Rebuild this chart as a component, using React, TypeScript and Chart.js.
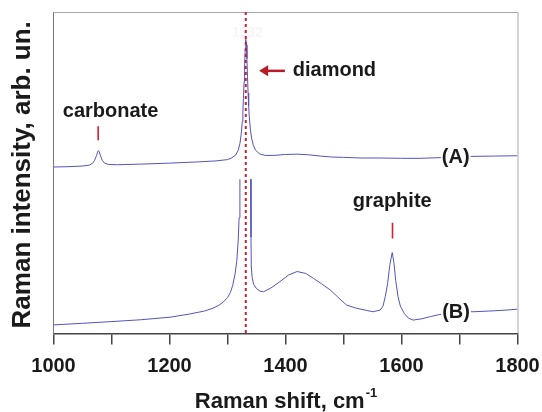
import React, { useEffect, useRef } from "react";
import { Chart, registerables } from "chart.js";

Chart.register(...registerables);

// Raman shift (cm-1) and intensity (arb. units, 0..100 frame) for spectrum (A)
const shiftA = [
  1000, 1025, 1050, 1062, 1067, 1071, 1074, 1076, 1077.5, 1079, 1081, 1084, 1088, 1095, 1110,
  1150, 1200, 1250, 1280, 1300, 1306, 1314, 1318.5, 1321.5, 1323.5, 1325.5, 1326.5, 1327.5,
  1328.5, 1329.5, 1330.5, 1331.5, 1332.5, 1333.5, 1334.5, 1335.5, 1336.5, 1337.5, 1339.5,
  1341.5, 1344.5, 1348.5, 1355, 1365, 1380, 1400, 1420, 1440, 1460, 1480, 1500, 1530, 1560,
  1600, 1632, 1680, 1720, 1760, 1800,
];
const intensityA = [
  51.8, 51.9, 52.1, 52.4, 52.9, 53.9, 55.3, 56.4, 56.9, 56.5, 55.3, 53.9, 53.0, 52.6, 52.5,
  52.7, 53.0, 53.4, 53.7, 54.1, 54.5, 55.5, 57.0, 59.2, 61.8, 65.9, 68.9, 73.0,
  78.2, 83.5, 88.4, 91.5, 89.8, 85.5, 80.0, 74.8, 70.8, 67.6, 63.4,
  60.8, 58.6, 57.0, 55.9, 55.4, 55.4, 55.7, 55.8, 55.6, 55.2, 54.9, 54.8, 54.6, 54.6,
  54.5, 54.5, 54.8, 55.1, 55.2, 55.3,
];

// Spectrum (B); the diamond band runs off the top of its window (null = gap)
const shiftB = [
  1000, 1050, 1097, 1150, 1201, 1235, 1260, 1275, 1285, 1292, 1300, 1305, 1309, 1313, 1316,
  1318.5, 1320, 1321.4, 1331, 1340.2, 1340.5, 1341, 1342.5, 1345, 1350, 1356, 1362, 1375, 1390,
  1405, 1420, 1435, 1448, 1462, 1477, 1490, 1505, 1522, 1540, 1551, 1563, 1568, 1572, 1576,
  1580, 1584, 1587, 1590, 1594, 1598, 1605, 1612, 1620, 1635, 1650, 1665, 1678, 1690, 1700,
  1725, 1750, 1780, 1800,
];
const intensityB = [
  2.7, 3.2, 3.7, 4.3, 5.1, 6.1, 7.0, 7.9, 8.8, 9.7, 11.2, 12.8, 15.0, 18.5, 22.5,
  29.1, 36.0, 48.0, null, 48.0, 30.0, 21.0, 17.5, 15.3, 14.0, 13.2, 13.0, 14.2, 16.1,
  18.2, 19.3, 18.7, 17.2, 15.5, 13.6, 11.4, 8.9, 7.9, 7.2, 6.8, 7.3, 8.5, 11.5, 15.5,
  21.5, 25.2, 22.0, 16.5, 11.5, 8.6, 6.2, 4.8, 4.2, 4.6, 5.3, 5.9, 6.3, 6.6, 6.8,
  6.8, 7.0, 7.3, 7.6,
];

const xTickValues = [1000, 1200, 1400, 1600, 1800];
const diamondShift = 1331.5;
const carbonateShift = 1077;
const graphiteShift = 1584.5;

const FONT = "'Liberation Sans', Arial, sans-serif";

const overlayPlugin = {
  id: "overlay",
  beforeDatasetsDraw(chart: any) {
    const { ctx, scales } = chart;
    const x = scales.x, y = scales.y;
    ctx.save();
    ctx.fillStyle = "#f6f6f6";
    ctx.font = `bold 14px ${FONT}`;
    ctx.textAlign = "center";
    ctx.textBaseline = "middle";
    ctx.fillText("1332", x.getPixelForValue(1334), y.getPixelForValue(93.5));
    ctx.restore();
  },
  afterDraw(chart: any) {
    const { ctx, chartArea, scales } = chart;
    const x = scales.x, y = scales.y;
    const px = (v: number) => x.getPixelForValue(v);
    const py = (v: number) => y.getPixelForValue(v);
    ctx.save();

    // frame (top, right)
    ctx.strokeStyle = "#a8a8a8";
    ctx.lineWidth = 1;
    ctx.beginPath();
    ctx.moveTo(chartArea.left, chartArea.top + 0.5);
    ctx.lineTo(chartArea.right + 0.5, chartArea.top + 0.5);
    ctx.lineTo(chartArea.right + 0.5, chartArea.bottom);
    ctx.stroke();

    // dotted diamond line
    ctx.strokeStyle = "#c8202e";
    ctx.lineWidth = 2;
    ctx.setLineDash([3, 3]);
    ctx.beginPath();
    ctx.moveTo(px(diamondShift), chartArea.top);
    ctx.lineTo(px(diamondShift), chartArea.bottom);
    ctx.stroke();
    ctx.setLineDash([]);

    // red markers
    ctx.strokeStyle = "#d0202e";
    ctx.lineWidth = 1.6;
    ctx.beginPath();
    ctx.moveTo(px(carbonateShift), py(64.5));
    ctx.lineTo(px(carbonateShift), py(60.1));
    ctx.moveTo(px(graphiteShift), py(34.5));
    ctx.lineTo(px(graphiteShift), py(29.6));
    ctx.stroke();

    // arrow to diamond
    const ay = py(81.7);
    const ax0 = px(1354.5);
    const ax1 = px(1399);
    ctx.strokeStyle = "#b81c26";
    ctx.fillStyle = "#b81c26";
    ctx.lineWidth = 2.5;
    ctx.beginPath();
    ctx.moveTo(ax0 + 6, ay);
    ctx.lineTo(ax1, ay);
    ctx.stroke();
    ctx.beginPath();
    ctx.moveTo(ax0, ay);
    ctx.lineTo(ax0 + 9, ay - 5.5);
    ctx.lineTo(ax0 + 9, ay + 5.5);
    ctx.closePath();
    ctx.fill();

    // labels
    ctx.fillStyle = "#1a1a1a";
    ctx.font = `bold 20px ${FONT}`;
    ctx.textBaseline = "alphabetic";
    ctx.textAlign = "left";
    ctx.fillText("carbonate", px(1016), py(67.2));
    ctx.fillText("diamond", px(1412.5), py(80.1));
    ctx.fillText("graphite", px(1516), py(39.5));

    const boxed = (t: string, cx: number, cy: number) => {
      ctx.font = `bold 20px ${FONT}`;
      const w = ctx.measureText(t).width;
      ctx.fillStyle = "#ffffff";
      ctx.fillRect(cx - w / 2 - 1, cy - 10, w + 2, 20);
      ctx.fillStyle = "#1a1a1a";
      ctx.textAlign = "center";
      ctx.textBaseline = "middle";
      ctx.fillText(t, cx, cy + 1);
    };
    boxed("(A)", px(1693.5), py(55.2));
    boxed("(B)", px(1694), py(7.0));

    // axis titles
    ctx.fillStyle = "#1a1a1a";
    ctx.font = `bold 22px ${FONT}`;
    ctx.textBaseline = "alphabetic";
    ctx.textAlign = "left";
    const main = "Raman shift, cm";
    const wMain = ctx.measureText(main).width;
    ctx.font = `bold 13px ${FONT}`;
    const sup = "-1";
    const wSup = ctx.measureText(sup).width;
    const cxT = (chartArea.left + chartArea.right) / 2;
    const startX = cxT - (wMain + wSup) / 2;
    const baseY = 408;
    ctx.font = `bold 22px ${FONT}`;
    ctx.fillText(main, startX, baseY);
    ctx.font = `bold 13px ${FONT}`;
    ctx.fillText(sup, startX + wMain + 1, baseY - 11);

    ctx.save();
    ctx.translate(30, (chartArea.top + chartArea.bottom) / 2 + 2);
    ctx.rotate(-Math.PI / 2);
    ctx.font = `bold 26px ${FONT}`;
    ctx.textAlign = "center";
    ctx.textBaseline = "alphabetic";
    ctx.fillText("Raman intensity, arb. un.", 0, 0);
    ctx.restore();

    ctx.restore();
  },
};

export default function App() {
  const ref = useRef<HTMLCanvasElement | null>(null);
  useEffect(() => {
    document.body.style.margin = "0";
    const canvas = ref.current!;
    const chart = new Chart(canvas, {
      type: "line",
      data: {
        datasets: [
          {
            label: "A",
            data: shiftA.map((s, i) => ({ x: s, y: intensityA[i] })),
            borderColor: "#5454bd",
            borderWidth: 1,
            pointRadius: 0,
            tension: 0,
            spanGaps: false,
          },
          {
            label: "B",
            data: shiftB.map((s, i) => ({ x: s, y: intensityB[i] as any })),
            borderColor: "#5454bd",
            borderWidth: 1,
            pointRadius: 0,
            tension: 0,
            spanGaps: false,
          },
        ],
      },
      options: {
        responsive: false,
        animation: false,
        devicePixelRatio: 1,
        layout: { padding: { left: 0, right: 24.5, top: 12, bottom: 0 } },
        plugins: { legend: { display: false }, tooltip: { enabled: false } },
        scales: {
          x: {
            type: "linear",
            min: 1000,
            max: 1800,
            afterFit: (s: any) => {
              s.height = 78.4;
              s.paddingLeft = 0;
              s.paddingRight = 0;
              s.paddingTop = 0;
              s.paddingBottom = 0;
            },
            ticks: {
              stepSize: 100,
              autoSkip: false,
              maxRotation: 0,
              padding: 10,
              color: "#1a1a1a",
              font: { family: FONT, size: 20, weight: "bold" },
              callback: (v: any) => (xTickValues.includes(Number(v)) ? String(v) : ""),
            },
            grid: {
              drawOnChartArea: false,
              drawTicks: true,
              tickLength: 11,
              color: "#444444",
              lineWidth: 1.5,
            },
            border: { display: true, color: "#444444", width: 1.5 },
          },
          y: {
            min: 0,
            max: 100,
            afterFit: (s: any) => {
              s.width = 53.5;
              s.paddingLeft = 0;
              s.paddingRight = 0;
              s.paddingTop = 0;
              s.paddingBottom = 0;
            },
            ticks: { display: false },
            grid: { display: false, drawTicks: false },
            border: { display: true, color: "#777777", width: 1 },
          },
        },
      },
      plugins: [overlayPlugin],
    });
    return () => chart.destroy();
  }, []);
  return <canvas ref={ref} width={542} height={412} style={{ display: "block" }} />;
}
